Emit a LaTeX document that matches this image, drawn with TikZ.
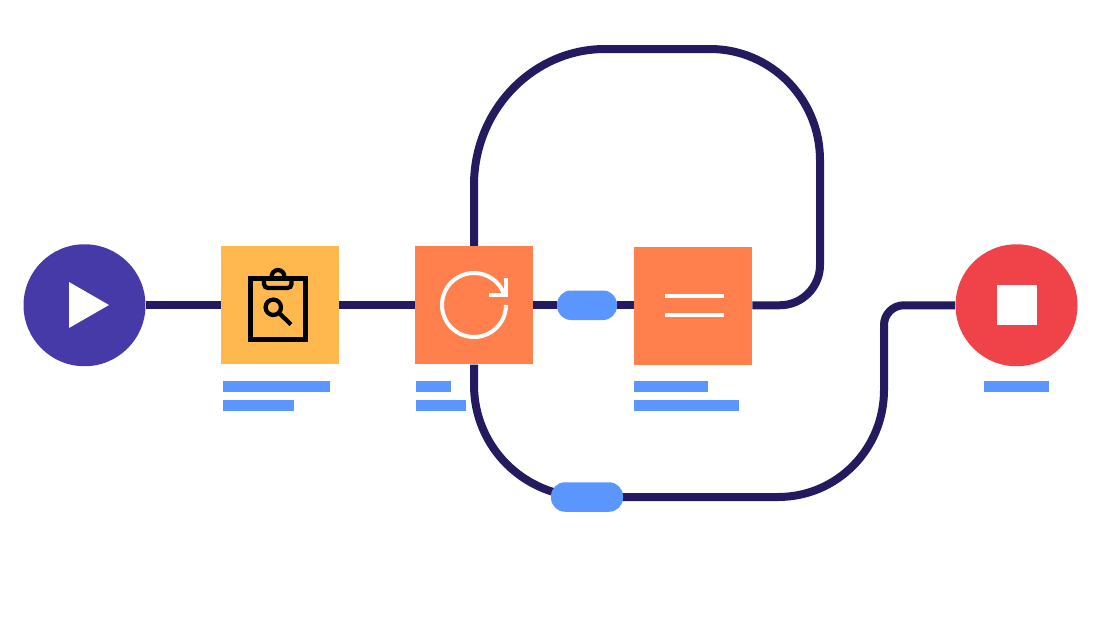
\documentclass[tikz,border=0pt]{standalone}
\usepackage{tikz}
\usetikzlibrary{calc,positioning}
\definecolor{flowline}{HTML}{231A60}
\definecolor{startcol}{HTML}{463AA8}
\definecolor{stopcol}{HTML}{F04349}
\definecolor{reviewcol}{HTML}{FFB84D}
\definecolor{stepcol}{HTML}{FF7F4D}
\definecolor{barcol}{HTML}{5B96FF}
\pgfdeclarelayer{lines}
\pgfsetlayers{lines,main}
\tikzset{
    flow/.style={line width=0.16cm,draw=flowline},
    endpoint/.style={circle,minimum size=2.44cm,inner sep=0pt},
    stepbox/.style={rectangle,minimum size=2.36cm,inner sep=0pt,fill=stepcol},
    pill/.style={rectangle,rounded corners=0.28cm,inner sep=0pt,fill=barcol,minimum height=0.59cm},
    textbar/.style={fill=barcol},
    iconwhite/.style={line width=0.08cm,draw=white},
    iconblack/.style={line width=0.085cm,draw=black}
}
\begin{document}
\begin{tikzpicture}[x=0.02cm,y=-0.02cm]
    \useasboundingbox (0,0) rectangle (1115,622);

    \node[endpoint,fill=startcol] (start) at (84.5,305.25) {};
    \node[stepbox,fill=reviewcol] (review) at (280,305.25) {};
    \node[stepbox] (retry) at (474,305.25) {};
    \node[pill,minimum width=1.2cm] (wait) at (587,305.25) {};
    \node[stepbox] (merge) at (693,306) {};
    \node[pill,minimum width=1.44cm] (hold) at (587,497) {};
    \node[endpoint,fill=stopcol] (stop) at (1016.5,305.25) {};

    \begin{pgfonlayer}{lines}
        \draw[flow] (start) -- (review);
        \draw[flow] (review) -- (retry);
        \draw[flow] (retry) -- (wait);
        \draw[flow] (wait) -- (merge.west |- wait);
        \draw[flow] (retry.north) -- (474,185)
            .. controls (474,110) and (533,49) .. (605,49)
            -- (710,49)
            .. controls (771,49) and (820,99) .. (820,160)
            -- (820,265)
            .. controls (820,287) and (802,305.25) .. (780,305.25)
            -- (merge.east |- wait);
        \draw[flow] (retry.south) -- (474,385)
            .. controls (474,447) and (524,497) .. (hold.center)
            -- (778,497)
            .. controls (837,497) and (884,449) .. (884,390)
            -- (884,325)
            .. controls (884,314) and (893,305.25) .. (904,305.25)
            -- (stop);
    \end{pgfonlayer}

    % play and stop marks
    \fill[white] (69,282) -- (109,305) -- (69,328) -- cycle;
    \fill[white] (997,285) rectangle (1037,325);

    % clipboard
    \draw[iconblack] (250.5,278.5) rectangle (305.5,339.5);
    \draw[iconblack,rounded corners=0.08cm] (264,278.5) -- (264,288) -- (291.5,288) -- (291.5,278.5);
    \draw[iconblack] (271.5,277) arc (180:360:6.5 and 7);
    \draw[iconblack] (273.3,307.3) circle[radius=7.7];
    \draw[iconblack] (279,313) -- (291,324.5);

    % retry arrow
    \draw[iconwhite] (506,305) arc (0:338:32);
    \draw[iconwhite] (489,294.7) -- (506,294.7) -- (506,278);

    % lines on the merge box
    \fill[white] (665,293.8) rectangle (723.5,298.2);
    \fill[white] (665,313) rectangle (723.5,317.4);

    % text bars
    \fill[textbar] (223,381) rectangle (330,391.5);
    \fill[textbar] (223,400) rectangle (294,410.5);
    \fill[textbar] (416,381) rectangle (451,391.5);
    \fill[textbar] (416,400) rectangle (466,410.5);
    \fill[textbar] (634,381) rectangle (708,391.5);
    \fill[textbar] (634,400) rectangle (739,410.5);
    \fill[textbar] (984,381) rectangle (1049,391.5);
\end{tikzpicture}
\end{document}
